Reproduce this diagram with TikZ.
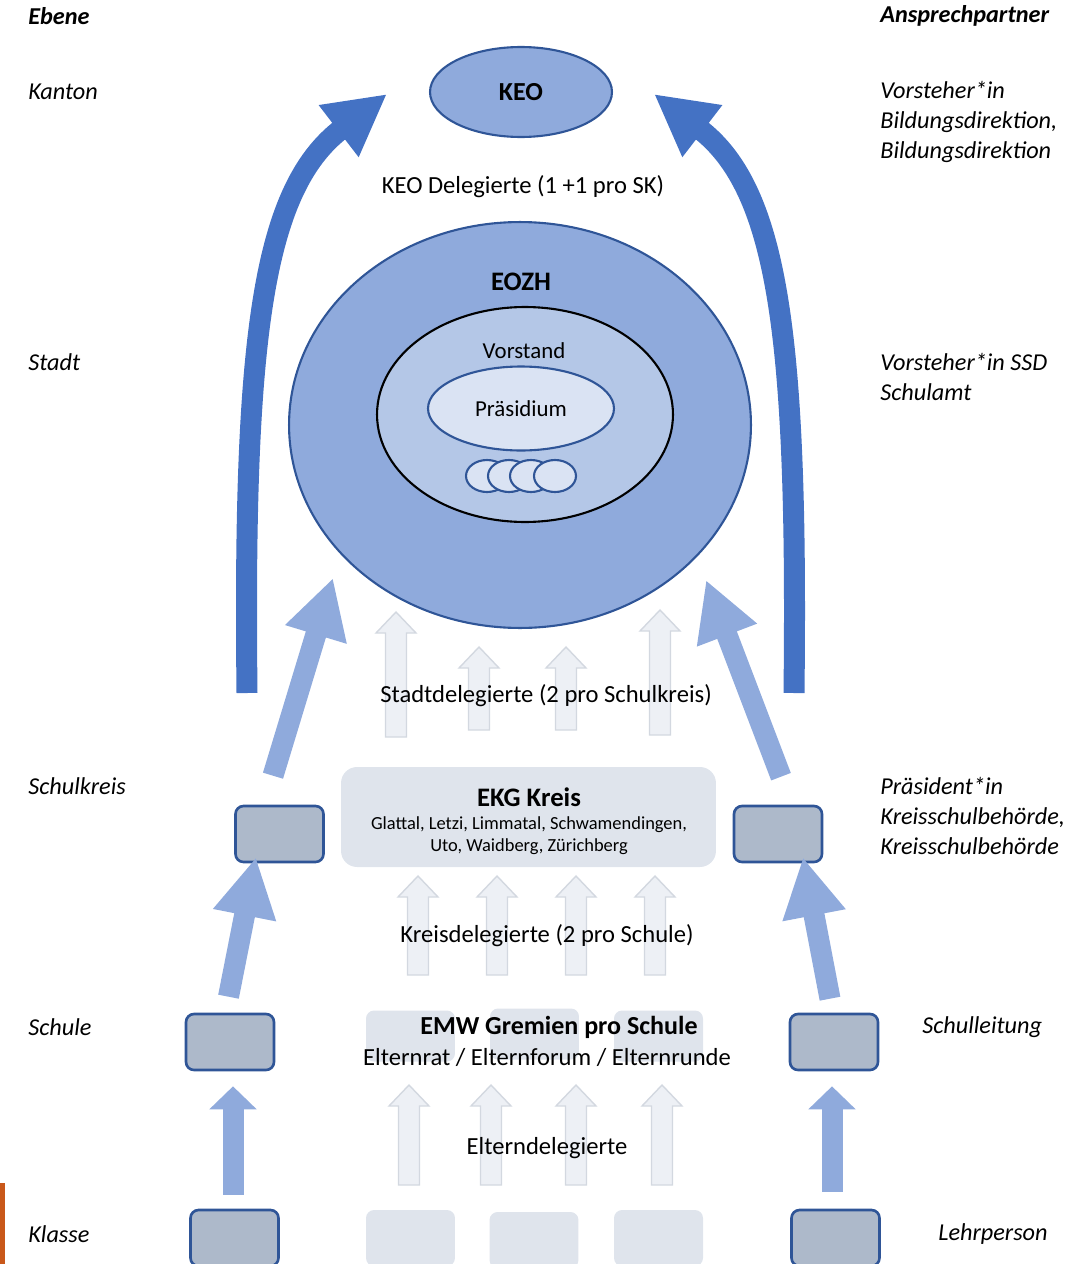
\documentclass[tikz,border=0pt]{standalone}
\usepackage{fontspec}
\setmainfont{Carlito}
\usetikzlibrary{arrows.meta,shapes.geometric}

\definecolor{darkarrow}{HTML}{4472C4}
\definecolor{lightarrow}{HTML}{8FAADC}
\definecolor{edgeblue}{HTML}{2F5597}
\definecolor{vorstandfill}{HTML}{B4C7E7}
\definecolor{paleblue}{HTML}{DAE3F3}
\definecolor{boxgrey}{HTML}{ADB9CA}
\definecolor{ghostfill}{HTML}{DFE4EC}
\definecolor{ghostarrow}{HTML}{EDF0F5}
\definecolor{ghostline}{HTML}{D3D8E0}
\definecolor{slideedge}{HTML}{C9581A}

\tikzset{
  lvl/.style={font=\itshape\fontsize{13.8}{17}\selectfont, anchor=west, align=left, inner sep=0pt},
  hdr/.style={font=\bfseries\itshape\fontsize{13.8}{17}\selectfont, anchor=west, inner sep=0pt},
  txt/.style={font=\fontsize{14}{17}\selectfont, inner sep=0pt},
  ttl/.style={font=\bfseries\fontsize{15.2}{18}\selectfont, inner sep=0pt},
  smalltxt/.style={font=\fontsize{10.5}{12.5}\selectfont, align=center, inner sep=0pt},
  oval/.style={ellipse, draw=edgeblue, line width=1.2pt, inner sep=0pt},
  rolebox/.style={draw=edgeblue, fill=boxgrey, line width=1.5pt, rounded corners=0.16cm,
    minimum width=1.76cm, minimum height=1.12cm},
  ghostbox/.style={fill=ghostfill, rounded corners=0.16cm, minimum width=1.78cm, minimum height=1.02cm},
  lbarrow/.style={lightarrow, line width=0.42cm, -{Triangle[length=1.18cm,width=1.2cm]}},
  lbshort/.style={lightarrow, line width=0.42cm, -{Triangle[length=0.46cm,width=0.92cm]}},
  dkarrow/.style={darkarrow, line width=0.42cm, -{Triangle[length=1.22cm,width=1.22cm]}}
}

% grey delegate arrow: x, bottom, top
\newcommand{\ghostup}[3]{%
  \draw[ghostline, fill=ghostarrow, line width=0.8pt, line join=miter]
    (#1-10.5,#2) -- (#1-10.5,#3+21) -- (#1-20,#3+21) -- (#1,#3)
    -- (#1+20,#3+21) -- (#1+10.5,#3+21) -- (#1+10.5,#2) -- cycle;}

\begin{document}
\begin{tikzpicture}[x=0.02cm,y=-0.02cm]
\useasboundingbox (0,0) rectangle (1071,1264);
\fill[slideedge] (0,1183) rectangle (5,1264);

% Ebenen
\node[hdr] (ebene) at (28,16) {Ebene};
\node[hdr] (partner) at (880,16) {Ansprechpartner};
\node[lvl] (kanton) at (28,92) {Kanton};
\node[lvl] (stadt) at (28,362) {Stadt};
\node[lvl] (schulkreis) at (28,786) {Schulkreis};
\node[lvl] (schule) at (28,1027) {Schule};
\node[lvl] (klasse) at (28,1234) {Klasse};
\node[lvl] (pkanton) at (880,122) {Vorsteher*in\\Bildungsdirektion,\\Bildungsdirektion};
\node[lvl] (pstadt) at (880,377) {Vorsteher*in SSD\\Schulamt};
\node[lvl] (pkreis) at (880,816) {Präsident*in\\Kreisschulbehörde,\\Kreisschulbehörde};
\node[lvl] (pschule) at (922,1027) {Schulleitung};
\node[lvl] (pklasse) at (938,1234) {Lehrperson};

% Kanton und Stadt
\node[oval, fill=lightarrow, minimum width=3.64cm, minimum height=1.8cm,
  font=\bfseries\fontsize{14.8}{17}\selectfont] (keo) at (521,92) {KEO};
\node[txt] (keodel) at (523,187) {KEO Delegierte (1 +1 pro SK)};
\node[oval, fill=lightarrow, minimum width=9.24cm, minimum height=8.12cm] (eozh) at (520,425) {};
\node[ttl] (eozhtxt) at (521,282) {EOZH};
\node[oval, draw=black, fill=vorstandfill, minimum width=5.92cm, minimum height=4.3cm] (vorstand) at (525,414.5) {};
\node[txt, font=\fontsize{13}{15}\selectfont] (vorstandtxt) at (524,351) {Vorstand};
\node[oval, fill=paleblue, minimum width=3.72cm, minimum height=1.68cm, font=\fontsize{13}{15}\selectfont] (praes) at (521,408.5) {Präsidium};
\foreach \cx [count=\i] in {487,509,531,555}
  \node[oval, fill=paleblue, minimum width=0.84cm, minimum height=0.64cm] (mitglied\i) at (\cx,476) {};

% Kreis, Schule, Klasse
\node[rolebox] (skL) at (279.5,834) {};
\node[rolebox] (skR) at (778,834) {};
\node[rolebox] (suL) at (230,1042) {};
\node[rolebox] (suR) at (834,1042) {};
\node[rolebox] (klL) at (234.5,1238) {};
\node[rolebox] (klR) at (835.5,1238) {};
\node[ghostbox] (emw1) at (410.5,1036) {};
\node[ghostbox] (emw2) at (534.5,1034) {};
\node[ghostbox] (emw3) at (658.5,1036) {};
\node[ghostbox, minimum height=1.12cm] (kl1) at (410.5,1238) {};
\node[ghostbox, minimum height=1.12cm] (kl2) at (534,1240) {};
\node[ghostbox, minimum height=1.12cm] (kl3) at (658.5,1238) {};
\node[fill=ghostfill, rounded corners=0.32cm, minimum width=7.5cm, minimum height=2cm] (ekg) at (528.5,817) {};

% Delegierte
\foreach \x/\b/\t in {396/737/612, 479/730/647, 566/730/647, 660/735/610}
  \ghostup{\x}{\b}{\t};
\foreach \x in {418,497,576,655}
  \ghostup{\x}{975}{876};
\foreach \x in {409,491,576,662}
  \ghostup{\x}{1185}{1085};

\node[txt] (stadtdel) at (546,696) {Stadtdelegierte (2 pro Schulkreis)};
\node[ttl] (ekgtxt) at (529,797) {EKG Kreis};
\node[smalltxt] (ekglist) at (529,836) {Glattal, Letzi, Limmatal, Schwamendingen,\\Uto, Waidberg, Zürichberg};
\node[txt] (kreisdel) at (547,936) {Kreisdelegierte (2 pro Schule)};
\node[ttl, font=\bfseries\fontsize{14.8}{18}\selectfont] (emwtxt) at (559,1027) {EMW Gremien pro Schule};
\node[txt] (emwlist) at (547,1057) {Elternrat / Elternforum / Elternrunde};
\node[txt] (elterndel) at (547,1148) {Elterndelegierte};

% Pfeile
\coordinate (eozhL) at (333,578);
\coordinate (eozhR) at (706,580);
\coordinate (keoL) at (387,94);
\coordinate (keoR) at (654,94);
\draw[lbarrow] ([shift={(-6.5,-29)}]skL.north) -- (eozhL);
\draw[lbarrow] ([shift={(3,-28)}]skR.north) -- (eozhR);
\draw[lbarrow] ([shift={(-1.5,-16)}]suL.north) -- ([shift={(-23.5,-6)}]skL.south);
\draw[lbarrow] ([shift={(-4,-14)}]suR.north) -- ([shift={(25,-6)}]skR.south);
\draw[lbshort] ([shift={(-1.5,-14)}]klL.north) -- ([shift={(3,15)}]suL.south);
\draw[lbshort] ([shift={(-3.5,-17)}]klR.north) -- ([shift={(-2,15)}]suR.south);
\draw[dkarrow] (247,693) .. controls (243,340) and (262,190) .. (keoL);
\draw[dkarrow] (794,693) .. controls (798,340) and (779,190) .. (keoR);
\end{tikzpicture}
\end{document}
